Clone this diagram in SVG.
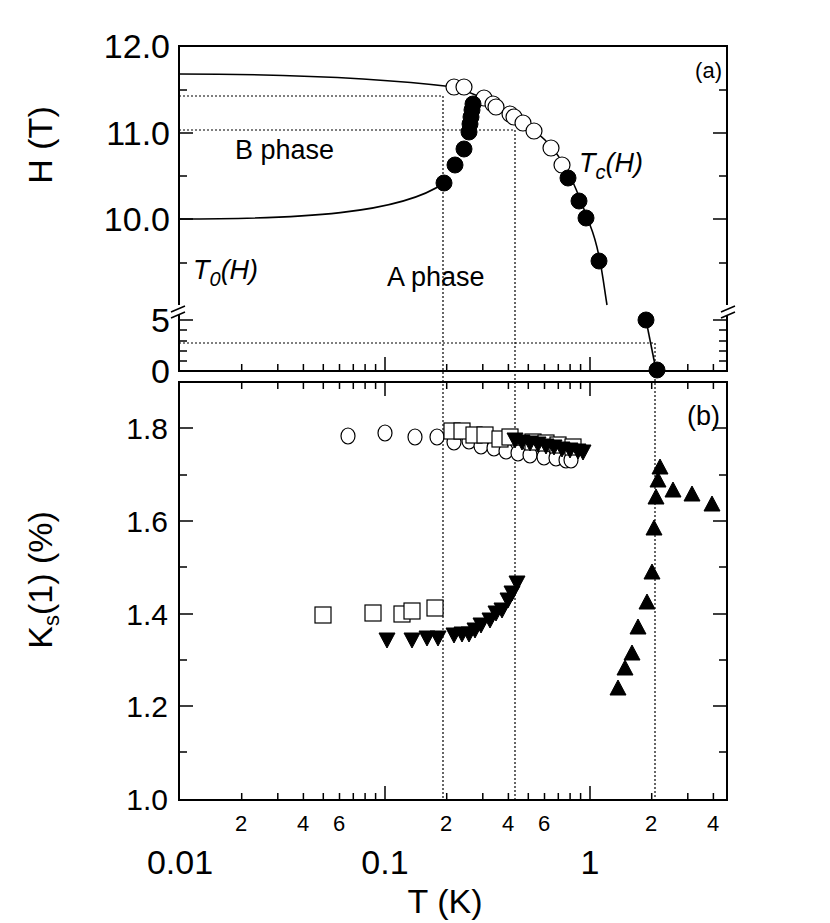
<svg xmlns="http://www.w3.org/2000/svg" width="830" height="923" viewBox="0 0 830 923">
<style>
text{font-family:"Liberation Sans",Arial,sans-serif;fill:#000}
.ax{fill:none;stroke:#000;stroke-width:2}
.tk{fill:none;stroke:#000;stroke-width:1.5}
.dot{fill:none;stroke:#000;stroke-width:1.2;stroke-dasharray:2 2}
.cv{fill:none;stroke:#000;stroke-width:1.6}
.fc{fill:#000;stroke:#000}
.oc{fill:#fff;stroke:#000;stroke-width:1.2}
.sq{fill:#fff;stroke:#000;stroke-width:1.2}
.big{font-size:34px}
.mid{font-size:30px}
.lbl{font-size:27px}
.sm{font-size:22px}
</style>
<defs>
<circle id="F" r="8" class="fc"/>
<circle id="O" r="8" class="oc"/>
<ellipse id="o" rx="7" ry="8" class="oc"/>
<rect id="S" x="-8" y="-8" width="16" height="16" class="sq"/>
<path id="D" d="M-8,-7 L8,-7 L0,8 Z" class="fc"/>
<path id="U" d="M-8,7 L8,7 L0,-8 Z" class="fc"/>
</defs>
<rect width="830" height="923" fill="#fff"/>
<g id="axes">
<rect x="179" y="46" width="548" height="325" class="ax"/>
<rect x="179" y="382" width="548" height="418" class="ax"/>
<path class="tk" d="M179,90h8M179,133h14M179,176h8M179,219h14M179,263h8M179,320h14M179,330h8M179,341h8M179,351h8M179,361h8
M727,90h-8M727,133h-14M727,176h-8M727,219h-14M727,263h-8M727,320h-14M727,330h-8M727,341h-8M727,351h-8M727,361h-8
M179,428h14M179,475h8M179,521h14M179,567h8M179,614h14M179,660h8M179,706h14M179,752h8
M727,428h-14M727,475h-8M727,521h-14M727,567h-8M727,614h-14M727,660h-8M727,706h-14M727,752h-8"/>
<path class="tk" d="M241.7,371v-7M277.8,371v-7M303.4,371v-7M323.3,371v-7M339.5,371v-7M353.3,371v-7M365.1,371v-7M375.6,371v-7M385,371v-14M446.7,371v-7M482.8,371v-7M508.4,371v-7M528.3,371v-7M544.5,371v-7M558.3,371v-7M570.1,371v-7M580.6,371v-7M590,371v-14M651.7,371v-7M687.8,371v-7M713.4,371v-7
M241.7,382v7M277.8,382v7M303.4,382v7M323.3,382v7M339.5,382v7M353.3,382v7M365.1,382v7M375.6,382v7M385,382v14M446.7,382v7M482.8,382v7M508.4,382v7M528.3,382v7M544.5,382v7M558.3,382v7M570.1,382v7M580.6,382v7M590,382v14M651.7,382v7M687.8,382v7M713.4,382v7
M241.7,800v-7M277.8,800v-7M303.4,800v-7M323.3,800v-7M339.5,800v-7M353.3,800v-7M365.1,800v-7M375.6,800v-7M385,800v-14M446.7,800v-7M482.8,800v-7M508.4,800v-7M528.3,800v-7M544.5,800v-7M558.3,800v-7M570.1,800v-7M580.6,800v-7M590,800v-14M651.7,800v-7M687.8,800v-7M713.4,800v-7"/>
<rect x="173" y="305" width="12" height="10" fill="#fff"/>
<rect x="721" y="305" width="12" height="10" fill="#fff"/>
<path class="tk" d="M171,312l14,-6M171,318l14,-6M721,312l14,-6M721,318l14,-6"/>
</g>
<g id="ticklabels">
<text x="170" y="58" class="big" text-anchor="end">12.0</text>
<text x="170" y="145" class="big" text-anchor="end">11.0</text>
<text x="170" y="231" class="big" text-anchor="end">10.0</text>
<text x="170" y="332" class="big" text-anchor="end">5</text>
<text x="170" y="383" class="big" text-anchor="end">0</text>
<text x="168" y="439" class="mid" text-anchor="end">1.8</text>
<text x="168" y="532" class="mid" text-anchor="end">1.6</text>
<text x="168" y="625" class="mid" text-anchor="end">1.4</text>
<text x="168" y="717" class="mid" text-anchor="end">1.2</text>
<text x="168" y="810" class="mid" text-anchor="end">1.0</text>
<g class="sm" text-anchor="middle">
<text x="241" y="831">2</text><text x="303" y="831">4</text><text x="339" y="831">6</text>
<text x="446" y="831">2</text><text x="508" y="831">4</text><text x="544" y="831">6</text>
<text x="651" y="831">2</text><text x="713" y="831">4</text>
</g>
<text x="180" y="874" class="big" text-anchor="middle">0.01</text>
<text x="385" y="874" class="big" text-anchor="middle">0.1</text>
<text x="590" y="874" class="big" text-anchor="middle">1</text>
<text x="445" y="913" class="big" text-anchor="middle">T (K)</text>
<text transform="translate(52,145) rotate(-90)" class="big" text-anchor="middle">H (T)</text>
<text transform="translate(52,580) rotate(-90)" class="big" text-anchor="middle">K<tspan font-size="22" dy="7">s</tspan><tspan dy="-7">(1) (%)</tspan></text>
</g>
<g id="labels">
<text x="722" y="78" class="sm" text-anchor="end">(a)</text>
<text x="720" y="425" class="lbl" text-anchor="end">(b)</text>
<text x="235" y="159" class="lbl">B phase</text>
<text x="387" y="286" class="lbl">A phase</text>
<text x="193" y="279" class="lbl" font-style="italic">T<tspan font-size="20" dy="7">0</tspan><tspan dy="-7">(H)</tspan></text>
<text x="579" y="172" class="lbl" font-style="italic">T<tspan font-size="20" dy="7">c</tspan><tspan dy="-7">(H)</tspan></text>
</g>
<g id="connectors">
<path class="dot" d="M179,96H443V800M179,130H515V800M179,343H655V800"/>
<path class="cv" d="M179,74 C300,74 380,78 454,87"/>
<path class="cv" d="M179,219 C300,219 400,214 444,183"/>
<path class="cv" d="M454,87 C480,95 520,115 545,140 S580,200 590,225 S603,280 607,305"/>
<path class="cv" d="M646,320 L656,370"/>
</g>
<g id="panel-a-data">
<use href="#O" x="454" y="87"/><use href="#O" x="464" y="87"/><use href="#O" x="484" y="98"/><use href="#O" x="493" y="104"/><use href="#O" x="496" y="107"/><use href="#O" x="510" y="114"/><use href="#O" x="514" y="117"/><use href="#O" x="523" y="123"/><use href="#O" x="534" y="131"/><use href="#O" x="551" y="148"/><use href="#O" x="562" y="165"/>
<use href="#F" x="444" y="183"/><use href="#F" x="455" y="165"/><use href="#F" x="464" y="149"/><use href="#F" x="469" y="132"/><use href="#F" x="470" y="124"/><use href="#F" x="471" y="117"/><use href="#F" x="472" y="110"/><use href="#F" x="473" y="104"/><use href="#F" x="568" y="178"/><use href="#F" x="579" y="201"/><use href="#F" x="586" y="218"/><use href="#F" x="599" y="261"/><use href="#F" x="646" y="320"/><use href="#F" x="657" y="370"/>
</g>
<g id="panel-b-data">
<use href="#o" x="348" y="436"/><use href="#o" x="385" y="433"/><use href="#o" x="415" y="437"/><use href="#o" x="437" y="437"/><use href="#o" x="454" y="442"/><use href="#o" x="469" y="441"/><use href="#o" x="481" y="446"/><use href="#o" x="494" y="448"/><use href="#o" x="506" y="451"/><use href="#o" x="518" y="453"/><use href="#o" x="530" y="455"/><use href="#o" x="544" y="457"/><use href="#o" x="556" y="458"/><use href="#o" x="566" y="460"/><use href="#o" x="571" y="460"/>
<use href="#S" x="452" y="431"/><use href="#S" x="462" y="431"/><use href="#S" x="474" y="435"/><use href="#S" x="485" y="435"/><use href="#S" x="500" y="439"/><use href="#S" x="510" y="437"/><use href="#S" x="533" y="442"/><use href="#S" x="546" y="443"/><use href="#S" x="558" y="445"/><use href="#S" x="573" y="447"/>
<use href="#S" x="323" y="615"/><use href="#S" x="373" y="613"/><use href="#S" x="402" y="614"/><use href="#S" x="412" y="611"/><use href="#S" x="435" y="608"/>
<use href="#D" x="515" y="440"/><use href="#D" x="522" y="442"/><use href="#D" x="530" y="443"/><use href="#D" x="538" y="444"/><use href="#D" x="546" y="446"/><use href="#D" x="554" y="447"/><use href="#D" x="562" y="449"/><use href="#D" x="570" y="450"/><use href="#D" x="578" y="451"/><use href="#D" x="583" y="452"/>
<use href="#D" x="387" y="640"/><use href="#D" x="412" y="640"/><use href="#D" x="427" y="638"/><use href="#D" x="438" y="638"/><use href="#D" x="454" y="635"/><use href="#D" x="462" y="634"/><use href="#D" x="469" y="634"/><use href="#D" x="475" y="630"/><use href="#D" x="481" y="625"/><use href="#D" x="490" y="620"/><use href="#D" x="496" y="613"/><use href="#D" x="502" y="610"/><use href="#D" x="508" y="600"/><use href="#D" x="512" y="593"/><use href="#D" x="517" y="583"/>
<use href="#U" x="618" y="688"/><use href="#U" x="625" y="668"/><use href="#U" x="632" y="653"/><use href="#U" x="638" y="627"/><use href="#U" x="647" y="602"/><use href="#U" x="652" y="572"/><use href="#U" x="654" y="528"/><use href="#U" x="656" y="497"/><use href="#U" x="658" y="480"/><use href="#U" x="660" y="467"/><use href="#U" x="673" y="490"/><use href="#U" x="692" y="494"/><use href="#U" x="712" y="504"/>
</g>
</svg>
